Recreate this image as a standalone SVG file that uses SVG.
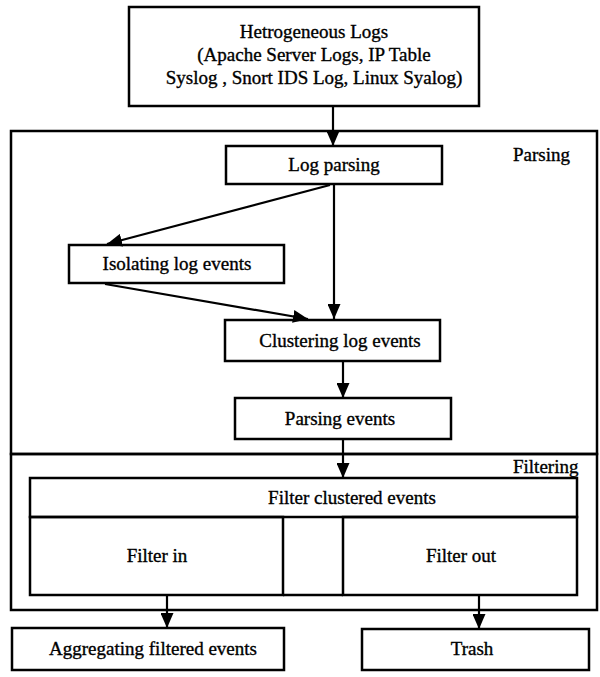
<svg xmlns="http://www.w3.org/2000/svg" width="600" height="677" viewBox="0 0 600 677">
<style>
.box{fill:none;stroke:#000;stroke-width:2.5}
.t{font-family:"Liberation Serif","Times New Roman","DejaVu Serif",serif;font-size:19px;fill:#000;stroke:#000;stroke-width:0.35;text-anchor:middle}
.lbl{font-family:"Liberation Serif","Times New Roman","DejaVu Serif",serif;font-size:19px;fill:#000;stroke:#000;stroke-width:0.35}
.c{stroke:#000;stroke-width:2.2;fill:none;marker-end:url(#ah)}
</style>
<defs>
<marker id="ah" markerUnits="userSpaceOnUse" markerWidth="15" markerHeight="13" refX="15" refY="6.5" orient="auto">
<path d="M0,0 L15,6.5 L0,13 z" fill="#000"/>
</marker>
</defs>
<rect width="600" height="677" fill="#fff"/>
<g id="parsing-stage">
<rect class="box" x="11" y="131" width="586" height="323"/>
<text class="lbl" x="513" y="161">Parsing</text>
</g>
<g id="filtering-stage">
<rect class="box" x="11" y="454" width="586" height="156"/>
<text class="lbl" x="513" y="473">Filtering</text>
</g>
<g id="logs">
<rect class="box" x="129" y="7" width="350" height="99"/>
<text class="t" x="314" y="38">Hetrogeneous Logs</text>
<text class="t" x="314" y="61">(Apache Server Logs, IP Table</text>
<text class="t" x="314" y="84">Syslog , Snort IDS Log, Linux Syalog)</text>
</g>
<g id="log-parsing">
<rect class="box" x="226" y="146" width="216" height="38"/>
<text class="t" x="334" y="171">Log parsing</text>
</g>
<g id="isolating">
<rect class="box" x="69" y="245" width="215" height="38"/>
<text class="t" x="177" y="270">Isolating log events</text>
</g>
<g id="clustering">
<rect class="box" x="225" y="320" width="215" height="41"/>
<text class="t" x="340" y="347">Clustering log events</text>
</g>
<g id="parsing-events">
<rect class="box" x="235" y="398" width="216" height="41"/>
<text class="t" x="340" y="425">Parsing events</text>
</g>
<g id="filter-clustered">
<rect class="box" x="30" y="478" width="547" height="39"/>
<text class="t" x="352" y="504">Filter clustered events</text>
</g>
<g id="filter-in">
<rect class="box" x="30" y="517" width="253" height="78"/>
<text class="t" x="157" y="562">Filter in</text>
</g>
<g id="filter-out">
<rect class="box" x="343" y="517" width="234" height="78"/>
<line x1="283" y1="595" x2="343" y2="595" stroke="#000" stroke-width="2.5"/>
<text class="t" x="461" y="562">Filter out</text>
</g>
<g id="aggregating">
<rect class="box" x="12" y="628" width="272" height="42"/>
<text class="t" x="153" y="655">Aggregating filtered events</text>
</g>
<g id="trash">
<rect class="box" x="362" y="629" width="227" height="41"/>
<text class="t" x="472" y="655">Trash</text>
</g>
<g id="connectors">
<line class="c" x1="333" y1="106" x2="333" y2="146"/>
<line class="c" x1="330" y1="185" x2="107" y2="244"/>
<line class="c" x1="334" y1="184" x2="334" y2="319"/>
<line class="c" x1="105" y1="284" x2="308" y2="319"/>
<line class="c" x1="343" y1="361" x2="343" y2="398"/>
<line class="c" x1="343" y1="439" x2="343" y2="478"/>
<line class="c" x1="167" y1="595" x2="167" y2="628"/>
<line class="c" x1="479" y1="595" x2="479" y2="629"/>
</g>
</svg>
